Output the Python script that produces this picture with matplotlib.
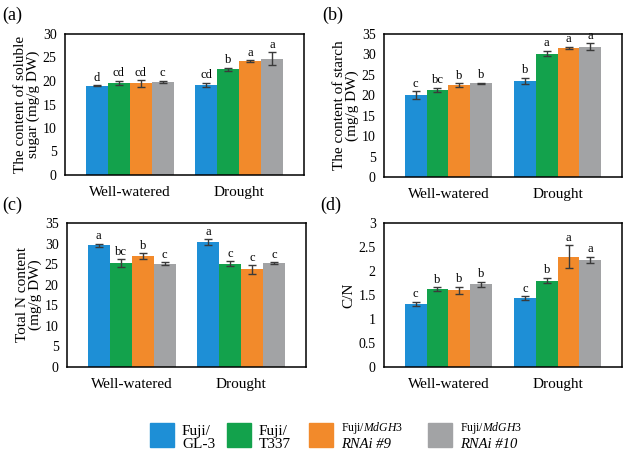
import numpy as np
import matplotlib.pyplot as plt
from matplotlib.patches import Rectangle

plt.rcParams['font.family'] = ['Liberation Serif', 'DejaVu Serif']
plt.rcParams['mathtext.fontset'] = 'custom'
plt.rcParams['mathtext.rm'] = 'Liberation Serif'
plt.rcParams['mathtext.it'] = 'Liberation Serif:italic'

# groups and lines
groups = ['Well-watered', 'Drought']
lines = ['Fuji/GL-3', 'Fuji/T337', 'Fuji/MdGH3 RNAi #9', 'Fuji/MdGH3 RNAi #10']
colors = ['#1e8fd6', '#13a24c', '#f28a2b', '#a2a3a5']

# (a) soluble sugar, rows = lines, cols = groups
sugar = [[19.0, 19.2], [19.6, 22.5], [19.5, 24.2], [19.8, 24.7]]
sugar_err = [[0.15, 0.4], [0.5, 0.3], [0.7, 0.2], [0.3, 1.4]]
sugar_sig = [['d', 'cd'], ['cd', 'b'], ['cd', 'a'], ['c', 'a']]

# (b) starch
starch = [[20.0, 23.5], [21.3, 30.2], [22.5, 31.6], [22.9, 31.9]]
starch_err = [[1.0, 0.8], [0.6, 0.7], [0.4, 0.3], [0.2, 0.9]]
starch_sig = [['c', 'b'], ['bc', 'a'], ['b', 'a'], ['b', 'a']]

# (c) total N
nitro = [[29.6, 30.4], [25.3, 25.1], [26.9, 23.7], [25.1, 25.3]]
nitro_err = [[0.4, 0.7], [0.9, 0.6], [0.7, 1.1], [0.4, 0.2]]
nitro_sig = [['a', 'a'], ['bc', 'c'], ['b', 'c'], ['c', 'c']]

# (d) C/N
cn = [[1.32, 1.44], [1.62, 1.80], [1.60, 2.30], [1.72, 2.23]]
cn_err = [[0.04, 0.04], [0.04, 0.06], [0.07, 0.24], [0.06, 0.07]]
cn_sig = [['c', 'c'], ['b', 'b'], ['b', 'a'], ['b', 'a']]

fig = plt.figure(figsize=(6.23, 4.53), dpi=100)
W, H = 623.0, 453.0

def axes_px(l, t, r, b):
    return fig.add_axes([l / W, 1 - b / H, (r - l) / W, (b - t) / H])

panels = [
    (axes_px(65, 34, 304, 175), sugar, sugar_err, sugar_sig, 30, 5,
     'The content of soluble\nsugar (mg/g DW)', '(a)', (2, 20)),
    (axes_px(384, 34, 622, 177), starch, starch_err, starch_sig, 35, 5,
     'The content of starch\n(mg/g DW)', '(b)', (322, 20)),
    (axes_px(67, 223, 306, 367), nitro, nitro_err, nitro_sig, 35, 5,
     'Total N content\n(mg/g DW)', '(c)', (2, 210)),
    (axes_px(384, 223, 622, 367), cn, cn_err, cn_sig, 3, 0.5,
     'C/N', '(d)', (320, 210)),
]

x = np.arange(len(groups))
bw = 0.2
for ax, vals, errs, sigs, ymax, step, ylab, tag, tagpos in panels:
    for i in range(len(lines)):
        pos = x + (i - 1.5) * bw
        ax.bar(pos, vals[i], bw, color=colors[i], zorder=2)
        ax.errorbar(pos, vals[i], yerr=errs[i], fmt='none', ecolor='#3a3a3a',
                    elinewidth=1, capsize=3, capthick=1, zorder=3)
        for j in range(len(groups)):
            ax.text(pos[j], vals[i][j] + errs[i][j] + ymax * 0.01, sigs[i][j],
                    ha='center', va='bottom', fontsize=9)
    ax.set_xlim(-0.59, 1.59)
    ax.set_ylim(0, ymax)
    ticks = np.arange(0, ymax + step / 2, step)
    ax.set_yticks(ticks)
    if step < 1:
        ax.set_yticklabels([('%g' % t) for t in ticks])
    ax.set_xticks(x)
    ax.set_xticklabels(groups, fontsize=11)
    ax.tick_params(axis='y', length=0, pad=6, labelsize=10)
    ax.tick_params(axis='x', length=0, pad=8)
    for s in ax.spines.values():
        s.set_linewidth(1.1)
        s.set_color('black')
    ax.set_ylabel(ylab, fontsize=11, labelpad=2, linespacing=1.0)
    fig.text(tagpos[0] / W, 1 - tagpos[1] / H, tag, fontsize=13)

# legend drawn by hand
leg = [
    (150, 'Fuji/', 'GL-3', 11, 11, False),
    (227, 'Fuji/', 'T337', 11, 11, False),
    (309, None, 'RNAi #9', 8.5, 10.5, True),
    (428, None, 'RNAi #10', 8.5, 10.5, True),
]
for k, (lx, t1, t2, f1, f2, ital) in enumerate(leg):
    fig.add_artist(Rectangle((lx / W, 1 - 447 / H), 24 / W, 24 / H,
                             transform=fig.transFigure, color=colors[k]))
    tx = (lx + 32) / W
    if t1 is not None:
        fig.text(tx, 1 - 431 / H, t1, fontsize=f1, va='center')
    else:
        fig.text(tx, 1 - 428 / H, r'Fuji/$\mathit{MdGH3}$', fontsize=f1, va='center')
    fig.text(tx, 1 - 445 / H, t2, fontsize=f2, va='center',
             style='italic' if ital else 'normal')

fig.savefig('out.png', dpi=100)
